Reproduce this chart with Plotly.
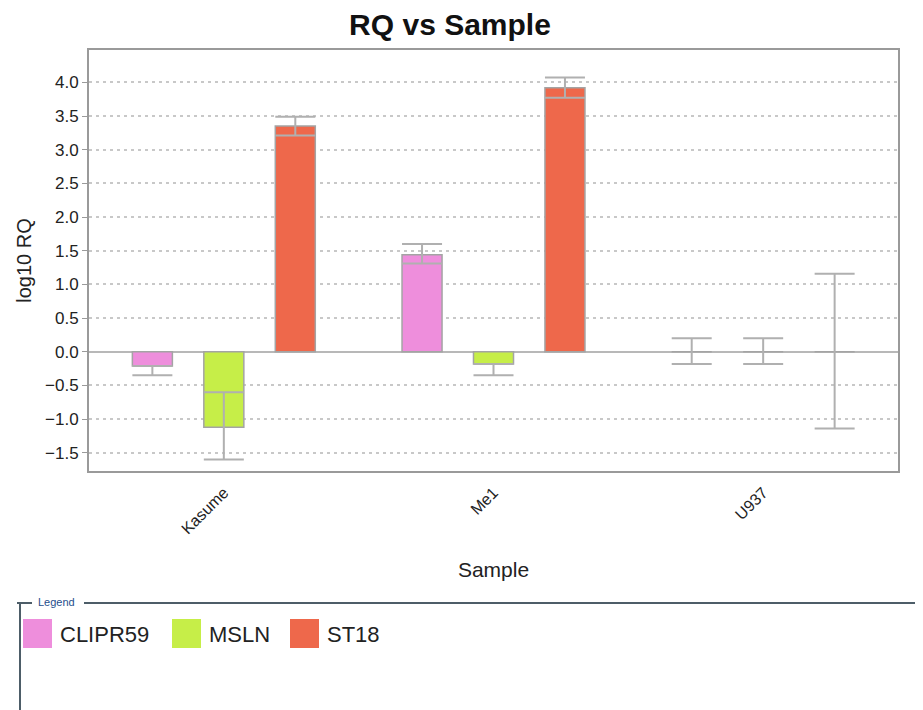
import plotly.graph_objects as go

samples = ["Kasume", "Me1", "U937"]
targets = ["CLIPR59", "MSLN", "ST18"]
colors = ["#EE8EDC", "#C6EE48", "#EE684B"]

log10_rq = {
    "CLIPR59": [-0.21, 1.44, 0.0],
    "MSLN": [-1.12, -0.18, 0.0],
    "ST18": [3.35, 3.92, 0.0],
}
err_plus = {
    "CLIPR59": [0.0, 0.16, 0.20],
    "MSLN": [0.52, 0.0, 0.20],
    "ST18": [0.14, 0.15, 1.16],
}
err_minus = {
    "CLIPR59": [0.14, 0.13, 0.18],
    "MSLN": [0.48, 0.17, 0.18],
    "ST18": [0.14, 0.15, 1.14],
}

# page body has an 8px margin; the figure starts at (8, 8)
OFF = 8
W, H = 923 - OFF, 710 - OFF
ML, MR, MT, MB = 89 - OFF, 25, 50 - OFF, 239
PW = W - ML - MR
PH = H - MT - MB


def px_x(px):
    return (px - OFF - ML) / PW


def px_y(py):
    return (H - MB - (py - OFF)) / PH


fig = go.Figure()
for name, col in zip(targets, colors):
    fig.add_trace(go.Bar(
        x=samples, y=log10_rq[name], name=name,
        marker=dict(color=col, line=dict(color="#a4a4a4", width=1.5)),
        error_y=dict(type="data", symmetric=False,
                     array=err_plus[name], arrayminus=err_minus[name],
                     color="#b0b0b0", thickness=2, width=20),
        showlegend=False,
    ))

shapes = []
annotations = []
frame_col = "#4d5d68"
# legend frame
shapes.append(dict(type="line", xref="paper", yref="paper",
                   x0=px_x(20), x1=px_x(20), y0=px_y(603), y1=px_y(712),
                   line=dict(color=frame_col, width=2)))
shapes.append(dict(type="line", xref="paper", yref="paper",
                   x0=px_x(17), x1=px_x(32), y0=px_y(603), y1=px_y(603),
                   line=dict(color=frame_col, width=2)))
shapes.append(dict(type="line", xref="paper", yref="paper",
                   x0=px_x(84), x1=px_x(925), y0=px_y(603), y1=px_y(603),
                   line=dict(color=frame_col, width=2)))
annotations.append(dict(text="Legend", xref="paper", yref="paper",
                        x=px_x(36), y=px_y(602), xanchor="left", yanchor="middle",
                        showarrow=False, font=dict(size=11, color="#1f4e8c",
                                                   family="Liberation Sans, Arial")))
item_x = [23, 172, 290]
for name, col, x0 in zip(targets, colors, item_x):
    shapes.append(dict(type="rect", xref="paper", yref="paper",
                       x0=px_x(x0), x1=px_x(x0 + 29), y0=px_y(648), y1=px_y(619),
                       fillcolor=col, line=dict(width=0)))
    annotations.append(dict(text=name, xref="paper", yref="paper",
                            x=px_x(x0 + 35), y=px_y(634), xanchor="left", yanchor="middle",
                            showarrow=False,
                            font=dict(size=22, color="#222222",
                                      family="Liberation Sans, Arial")))

fig.update_layout(
    width=W, height=H,
    margin=dict(l=ML, r=MR, t=MT, b=MB, autoexpand=False),
    paper_bgcolor="white", plot_bgcolor="white",
    barmode="group", bargap=0.205, bargroupgap=0.44,
    font=dict(family="Liberation Sans, Arial", color="#222222", size=15),
    title=dict(text="<b>RQ vs Sample</b>", x=(450 - OFF) / W, xanchor="center",
               y=1 - (24 - OFF) / H, yanchor="middle",
               font=dict(size=30, color="#111111", family="Liberation Sans, Arial")),
    shapes=shapes, annotations=annotations,
    showlegend=False,
)
fig.update_xaxes(
    type="category", tickangle=-45, tickfont=dict(size=16),
    title=dict(text="Sample", font=dict(size=21), standoff=26),
    showline=True, mirror=True, linecolor="#9a9a9a", linewidth=2,
    showgrid=False, ticks="outside", ticklen=4, tickcolor="rgba(0,0,0,0)",
)
fig.update_yaxes(
    range=[-1.77, 4.48], dtick=0.5, tick0=0, tickformat=".1f",
    tickfont=dict(size=17),
    title=dict(text="log10 RQ", font=dict(size=20), standoff=8),
    showline=True, mirror=True, linecolor="#9a9a9a", linewidth=2,
    showgrid=True, gridcolor="#c8c8c8", gridwidth=1.5, griddash="3px,4px",
    zeroline=True, zerolinecolor="#b8b8b8", zerolinewidth=1.5,
    ticks="outside", ticklen=5, tickcolor="#9a9a9a",
)

fig.write_html("out.html")
